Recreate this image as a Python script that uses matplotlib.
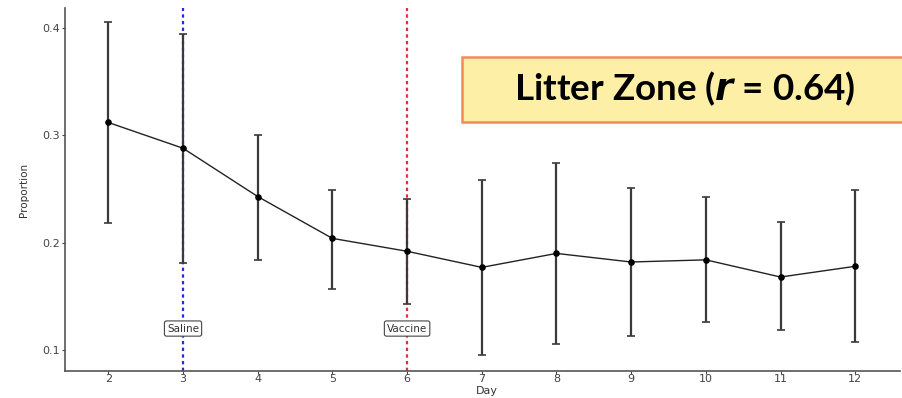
import numpy as np
import matplotlib

matplotlib.use("Agg")
import matplotlib.pyplot as plt
from matplotlib.patches import Rectangle

# Day-wise proportion in the litter zone (mean with error bar bounds)
days = [2, 3, 4, 5, 6, 7, 8, 9, 10, 11, 12]
mean_prop = [0.312, 0.288, 0.243, 0.204, 0.192, 0.177, 0.190, 0.182, 0.184, 0.168, 0.178]
upper = [0.406, 0.394, 0.300, 0.249, 0.241, 0.258, 0.274, 0.251, 0.243, 0.219, 0.249]
lower = [0.218, 0.181, 0.184, 0.157, 0.143, 0.095, 0.106, 0.113, 0.126, 0.119, 0.107]

events = ["Saline", "Vaccine"]
event_days = [3, 6]
event_colors = ["#2b2bd9", "#e0303a"]
event_label_y = 0.12

title_text = r"Litter Zone ($\mathbfit{r}$ = 0.64)"

plt.rcParams["mathtext.fontset"] = "dejavusans"

fig = plt.figure(figsize=(9.03, 3.98), dpi=100)
ax = fig.add_axes([0.072, 0.068, 0.9247, 0.912])

mean_prop = np.array(mean_prop)
yerr = [mean_prop - np.array(lower), np.array(upper) - mean_prop]

for d, c in zip(event_days, event_colors):
    ax.axvline(d, color=c, linestyle=(0, (1.5, 1.5)), linewidth=1.6, zorder=1)

ax.errorbar(days, mean_prop, yerr=yerr, fmt="none", ecolor="#3a3a3a",
            elinewidth=1.6, capsize=3, capthick=1.2, zorder=2)
ax.plot(days, mean_prop, color="#222222", linewidth=1.0, zorder=3)
ax.scatter(days, mean_prop, s=14, color="black", zorder=4)

for name, d in zip(events, event_days):
    ax.text(d, event_label_y, name, ha="center", va="center", fontsize=7.5,
            color="#333333", zorder=5,
            bbox=dict(boxstyle="round,pad=0.25,rounding_size=0.2", fc="white",
                      ec="#444444", lw=0.8))

ax.set_xlim(1.42, 12.6)
ax.set_ylim(0.0805, 0.4187)
ax.set_xticks(days)
ax.set_yticks([0.1, 0.2, 0.3, 0.4])
ax.set_yticklabels(["0.1", "0.2", "0.3", "0.4"])
ax.tick_params(labelsize=8, colors="#444444", length=2, width=0.8, pad=1.5)
ax.tick_params(axis="x", pad=0.5)
ax.set_xlabel("Day", fontsize=8, color="#333333")
ax.xaxis.set_label_coords(0.505, -0.042)
ax.set_ylabel("Proportion", fontsize=7.5, color="#333333", labelpad=10)
for s in ["top", "right"]:
    ax.spines[s].set_visible(False)
for s in ["left", "bottom"]:
    ax.spines[s].set_color("#555555")
    ax.spines[s].set_linewidth(1.2)

# highlighted title box in the top right corner
W, H = 903, 398
box = Rectangle((462 / W, 1 - 122 / H), (W - 462) / W + 0.01, 65 / H,
                transform=fig.transFigure, facecolor="#fdf0a6",
                edgecolor="#f4895c", linewidth=1.8, zorder=10, clip_on=False)
fig.patches.append(box)
fig.text(685 / W, 1 - 89 / H, title_text, ha="center", va="center",
         fontsize=26.5, fontweight="bold", family="Lato", color="black", zorder=11)

plt.savefig("out.png", dpi=100)
